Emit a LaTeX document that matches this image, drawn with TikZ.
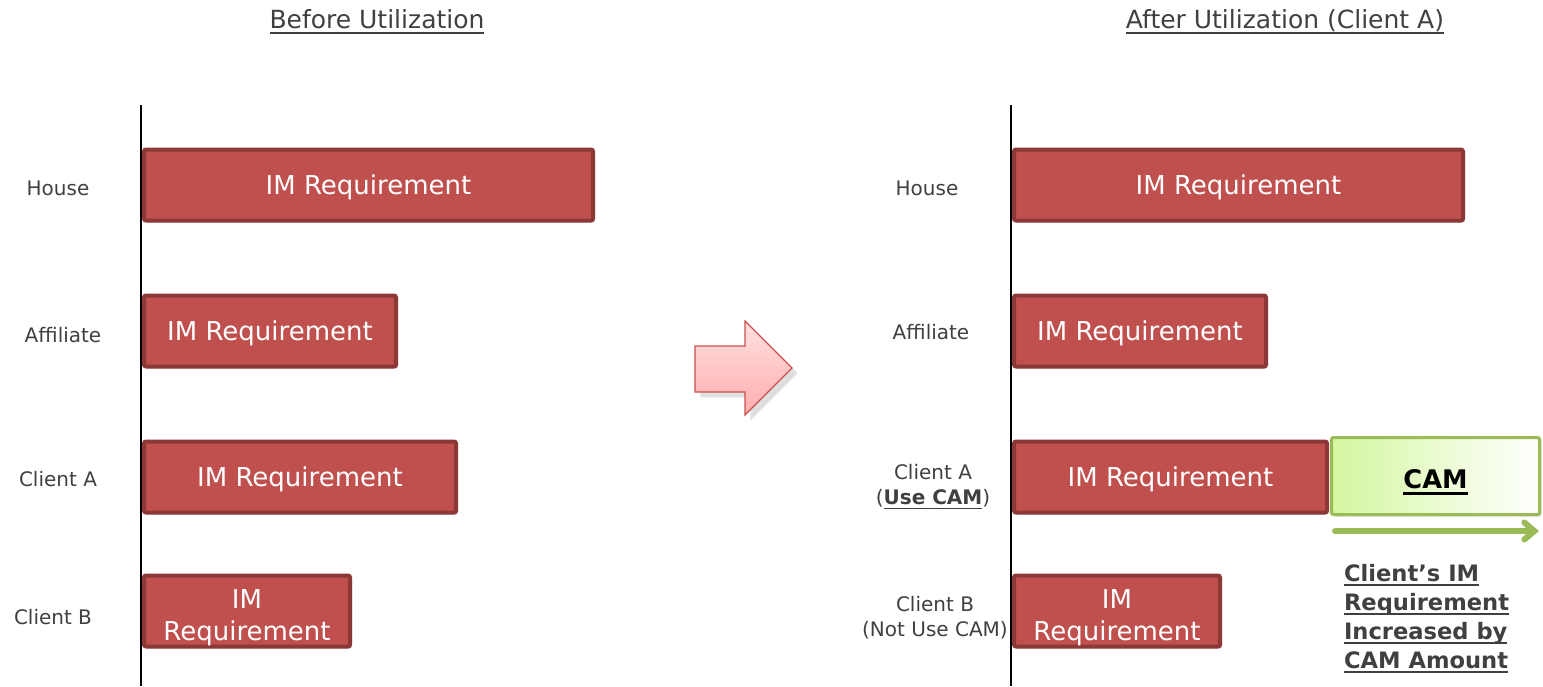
\documentclass[tikz,border=0pt]{standalone}
\usepackage{fontspec}
\setmainfont{DejaVu Sans}
\usetikzlibrary{arrows.meta, shadows}
\definecolor{barred}{HTML}{C0504D}
\definecolor{barline}{HTML}{8C3836}
\definecolor{labelgray}{HTML}{404040}
\definecolor{camgreen}{HTML}{9BBB59}
\definecolor{camfill}{HTML}{D4F7A0}
\definecolor{shiftline}{HTML}{C9504E}
\newsavebox{\undlbox}
\newcommand{\undl}[1]{\sbox{\undlbox}{#1}\rlap{\rule[-0.22em]{\wd\undlbox}{0.08em}}\usebox{\undlbox}}
\tikzstyle{imbar} = [rectangle, rounded corners=1pt, anchor=west,
    minimum height=35.5pt, text centered, align=center, fill=barred,
    draw=barline, line width=2pt, text=white, text depth=0pt,
    font=\fontsize{13}{16}\selectfont,
    drop shadow={shadow xshift=1pt, shadow yshift=-1pt, opacity=0.3}]
\tikzstyle{twoline} = [inner ysep=0pt, text height=29.8pt, text depth=0pt]
\tikzstyle{cambox} = [imbar, minimum height=38.5pt, line width=1.5pt,
    draw=camgreen, left color=camfill, right color=white, text=black,
    text height=12.9pt, text depth=0pt, font=\fontsize{12.8}{15}\selectfont\bfseries]
\tikzstyle{rowlabel} = [text=labelgray, font=\fontsize{10}{12.5}\selectfont,
    align=center]
\tikzstyle{title} = [text=labelgray, font=\fontsize{12.5}{15}\selectfont]
\tikzstyle{axis} = [line width=1pt, black]
\tikzstyle{camarrow} = [line width=3pt, camgreen, line cap=round,
    -{Straight Barb[length=5pt, width=8.5pt, line cap=round]}]

\begin{document}
\begin{tikzpicture}[x=0.5pt, y=-0.5pt]
            \useasboundingbox (0,0) rectangle (1543,686);
            % Titles
            \node[title] (before) at (377,22) {\undl{Before Utilization}};
            \node[title] (after) at (1285,22) {\undl{After Utilization (Client A)}};
            % Axes
            \coordinate (laxtop) at (141,105);
            \coordinate (laxbot) at (141,686);
            \coordinate (raxtop) at (1011,105);
            \coordinate (raxbot) at (1011,686);
            \draw[axis] (laxtop) -- (laxbot);
            \draw[axis] (raxtop) -- (raxbot);
            % Bars before
            \node[imbar, minimum width=224.5pt] (bhouse) at (142,185) {IM Requirement};
            \node[imbar, minimum width=126pt] (baff) at (142,331) {IM Requirement};
            \node[imbar, minimum width=156pt] (bcla) at (142,477) {IM Requirement};
            \node[imbar, twoline, minimum width=103pt] (bclb) at (142,611) {IM\\Requirement};
            % Bars after
            \node[imbar, minimum width=224.5pt] (ahouse) at (1012,185) {IM Requirement};
            \node[imbar, minimum width=126pt] (aaff) at (1012,331) {IM Requirement};
            \node[imbar, minimum width=156.5pt] (acla) at (1012,477) {IM Requirement};
            \node[imbar, twoline, minimum width=103pt] (aclb) at (1012,611) {IM\\Requirement};
            \node[cambox, minimum width=104pt] (cam) at (1330,476) {\undl{CAM}};
            % Row labels
            \node[rowlabel] (lhouse) at (58,188) {House};
            \node[rowlabel] (laff) at (63,335) {Affiliate};
            \node[rowlabel] (lcla) at (58,479) {Client A};
            \node[rowlabel] (lclb) at (53,617) {Client B};
            \node[rowlabel] (rhouse) at (927,188) {House};
            \node[rowlabel] (raff) at (931,332) {Affiliate};
            \node[rowlabel] (rcla) at (933,487) {Client A\\(\undl{\textbf{Use CAM}})};
            \node[rowlabel] (rclb) at (935,618) {Client B\\(Not Use CAM)};
            % Shift arrow
            \shade[top color=red!12, bottom color=red!32, draw=shiftline,
                line width=0.6pt, drop shadow={opacity=0.25}]
                (695,346) -- (745,346) -- (745,321) -- (792,368)
                -- (745,415) -- (745,392) -- (695,392) -- cycle;
            % CAM increase
            \coordinate (incstart) at (1335,531);
            \coordinate (incend) at (1539,531);
            \draw[camarrow] (incstart) -- (incend);
            \node[anchor=north west, align=left, text=labelgray,
                font=\fontsize{11.3}{14.5}\selectfont\bfseries]
                (incnote) at (1337,557)
                {\undl{Client’s IM}\\\undl{Requirement}\\\undl{Increased by}\\\undl{CAM Amount}};
        \end{tikzpicture}
\end{document}
